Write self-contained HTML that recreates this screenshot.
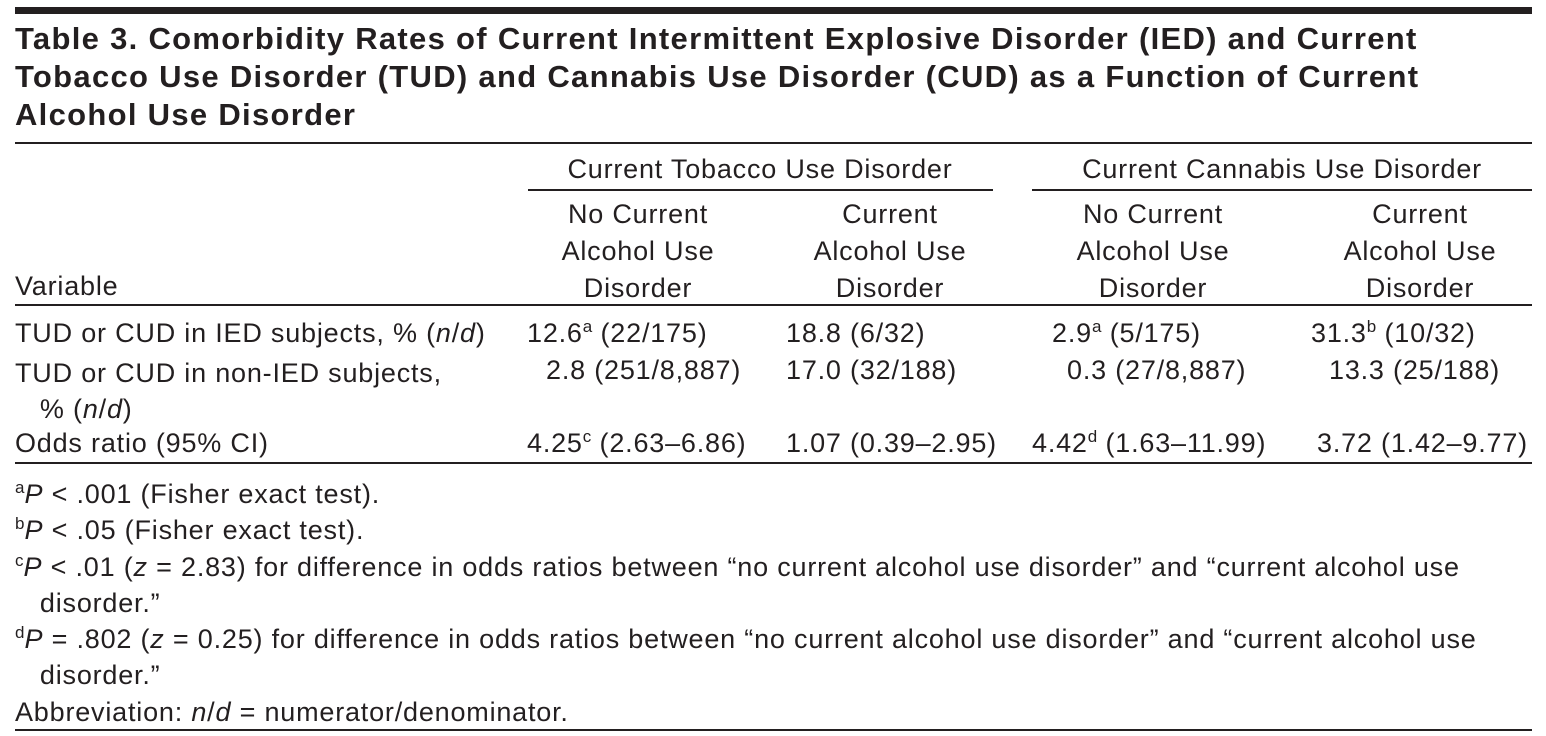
<!DOCTYPE html>
<html><head><meta charset="utf-8"><style>
body{margin:0;width:1546px;height:736px;background:#fff;position:relative;overflow:hidden;font-family:"Liberation Sans",sans-serif;color:#231f20}
.a{position:absolute;white-space:nowrap;font-size:27px;letter-spacing:0.8px;line-height:30px}
.r{position:absolute;background:#231f20}
.t{position:absolute;left:15px;font-weight:bold;font-size:31px;letter-spacing:1.3px;white-space:nowrap;line-height:38px}
.c{text-align:center;transform:translateX(-50%)}
sup{font-size:17px;vertical-align:10px;line-height:0;letter-spacing:0}
</style></head><body>
<div class="r" style="left:15px;top:7px;width:1517px;height:7px"></div>
<div class="t" style="top:20px">Table 3. Comorbidity Rates of Current Intermittent Explosive Disorder (IED) and Current<br>Tobacco Use Disorder (TUD) and Cannabis Use Disorder (CUD) as a Function of Current<br>Alcohol Use Disorder</div>
<div class="r" style="left:15px;top:142px;width:1517px;height:2px"></div>
<div class="a c" style="left:760px;top:154px">Current Tobacco Use Disorder</div>
<div class="r" style="left:528px;top:189px;width:465px;height:2px"></div>
<div class="a c" style="left:1282px;top:154px">Current Cannabis Use Disorder</div>
<div class="r" style="left:1032px;top:189px;width:500px;height:2px"></div>
<div class="a c" style="left:638px;top:196px;line-height:37px">No Current<br>Alcohol Use<br>Disorder</div>
<div class="a c" style="left:890px;top:196px;line-height:37px">Current<br>Alcohol Use<br>Disorder</div>
<div class="a c" style="left:1153px;top:196px;line-height:37px">No Current<br>Alcohol Use<br>Disorder</div>
<div class="a c" style="left:1420px;top:196px;line-height:37px">Current<br>Alcohol Use<br>Disorder</div>
<div class="a" style="left:15px;top:271px">Variable</div>
<div class="r" style="left:15px;top:304px;width:1517px;height:2px"></div>

<div class="a" style="left:15px;top:318px">TUD or CUD in IED subjects, % (<i>n</i>/<i>d</i>)</div>
<div class="a" style="left:527px;top:318px">12.6<sup>a</sup> (22/175)</div>
<div class="a" style="left:786px;top:318px">18.8 (6/32)</div>
<div class="a" style="left:1052px;top:318px">2.9<sup>a</sup> (5/175)</div>
<div class="a" style="left:1311px;top:318px">31.3<sup>b</sup> (10/32)</div>

<div class="a" style="left:15px;top:355px;line-height:36px">TUD or CUD in non-IED subjects,<br>&nbsp;&nbsp;&nbsp;% (<i>n</i>/<i>d</i>)</div>
<div class="a" style="left:546px;top:355px">2.8 (251/8,887)</div>
<div class="a" style="left:786px;top:355px">17.0 (32/188)</div>
<div class="a" style="left:1067px;top:355px">0.3 (27/8,887)</div>
<div class="a" style="left:1329px;top:355px">13.3 (25/188)</div>

<div class="a" style="left:15px;top:428px">Odds ratio (95% CI)</div>
<div class="a" style="left:527px;top:428px">4.25<sup>c</sup> (2.63–6.86)</div>
<div class="a" style="left:786px;top:428px">1.07 (0.39–2.95)</div>
<div class="a" style="left:1032px;top:428px">4.42<sup>d</sup> (1.63–11.99)</div>
<div class="a" style="left:1317px;top:428px">3.72 (1.42–9.77)</div>
<div class="r" style="left:15px;top:462px;width:1517px;height:2px"></div>

<div class="a" style="left:15px;top:476px;line-height:36.3px;font-size:27px;letter-spacing:0.8px">
<sup>a</sup><i>P</i> &lt; .001 (Fisher exact test).<br>
<sup>b</sup><i>P</i> &lt; .05 (Fisher exact test).<br>
<sup>c</sup><i>P</i> &lt; .01 (<i>z</i> = 2.83) for difference in odds ratios between “no current alcohol use disorder” and “current alcohol use<br>
&nbsp;&nbsp;&nbsp;disorder.”<br>
<sup>d</sup><i>P</i> = .802 (<i>z</i> = 0.25) for difference in odds ratios between “no current alcohol use disorder” and “current alcohol use<br>
&nbsp;&nbsp;&nbsp;disorder.”<br>
Abbreviation: <i>n</i>/<i>d</i> = numerator/denominator.</div>
<div class="r" style="left:15px;top:729px;width:1517px;height:2px"></div>
</body></html>
